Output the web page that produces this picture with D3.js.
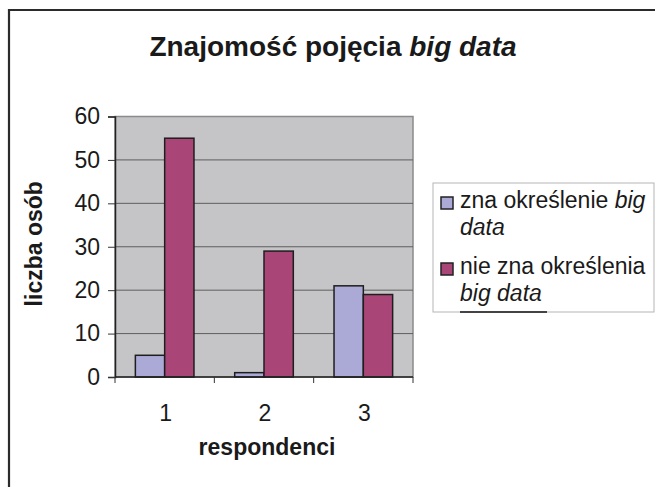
<!DOCTYPE html>
<html><head><meta charset="utf-8">
<script src="https://cdn.jsdelivr.net/npm/d3@7"></script>
<style>
html,body{margin:0;padding:0;background:#fff;}
svg{display:block;font-family:Arial,"Liberation Sans",sans-serif;}
</style></head>
<body>
<svg id="chart" width="655" height="487"></svg>
<script>
const categories = ["1", "2", "3"];
const seriesNames = ["zna określenie", "nie zna określenia"];
const znaValues = [5, 1, 21];
const nieZnaValues = [55, 29, 19];
const yTicks = [0, 10, 20, 30, 40, 50, 60];
const colors = ["#aba9d5", "#aa4677"];

const svg = d3.select("#chart");
const W = 655, H = 487;
const plot = {left: 115, right: 413, top: 116.5, bottom: 377};
const FS = 23;

// outer frame
svg.append("path").attr("d", `M9,${H} L9,10 L${W},10`)
  .attr("fill", "none").attr("stroke", "#2b2b2b").attr("stroke-width", 2.2);

const x0 = d3.scaleBand().domain(categories).range([plot.left, plot.right])
  .paddingInner(0.41).paddingOuter(0.205);
const x1 = d3.scaleBand().domain([0, 1]).range([0, x0.bandwidth()]);
const y = d3.scaleLinear().domain([0, 60]).range([plot.bottom, plot.top]);

// plot area
svg.append("rect").attr("x", plot.left).attr("y", plot.top)
  .attr("width", plot.right - plot.left).attr("height", plot.bottom - plot.top)
  .attr("fill", "#c5c5c7").attr("stroke", "#8a8a8a").attr("stroke-width", 1.5);

// gridlines
svg.append("g").selectAll("line").data(yTicks.filter(d => d > 0 && d < 60)).join("line")
  .attr("x1", plot.left).attr("x2", plot.right)
  .attr("y1", d => y(d)).attr("y2", d => y(d))
  .attr("stroke", "#5e5e5e").attr("stroke-width", 1);

// bars
const groups = svg.append("g").selectAll("g").data(categories).join("g")
  .attr("transform", d => `translate(${x0(d)},0)`);
groups.selectAll("rect").data((d, i) => [znaValues[i], nieZnaValues[i]]).join("rect")
  .attr("x", (d, j) => x1(j)).attr("width", x1.bandwidth())
  .attr("y", d => y(d)).attr("height", d => y(0) - y(d))
  .attr("fill", (d, j) => colors[j]).attr("stroke", "#1e1e1e").attr("stroke-width", 1.5);

// y axis
const yAxis = d3.axisLeft(y).tickValues(yTicks).tickSize(7).tickPadding(8).tickFormat(d3.format("d"));
const gy = svg.append("g").attr("transform", `translate(${plot.left},0)`).call(yAxis);
gy.select(".domain").attr("stroke", "#222").attr("stroke-width", 1.5);
gy.selectAll(".tick line").attr("stroke", "#333");
gy.selectAll("text").attr("font-size", FS).attr("fill", "#1a1a1a")
  .attr("font-family", "Arial, 'Liberation Sans', sans-serif");

// x axis: ticks at category boundaries
const boundaries = [plot.left, ...categories.slice(1).map(c => x0(c) - x0.step() * x0.paddingInner() / 2), plot.right];
svg.append("line").attr("x1", plot.left).attr("x2", plot.right)
  .attr("y1", plot.bottom).attr("y2", plot.bottom).attr("stroke", "#222").attr("stroke-width", 1.5);
svg.append("g").selectAll("line").data(boundaries).join("line")
  .attr("x1", d => d).attr("x2", d => d).attr("y1", plot.bottom).attr("y2", plot.bottom + 6)
  .attr("stroke", "#333").attr("stroke-width", 1);
svg.append("g").selectAll("text").data(categories).join("text")
  .attr("x", d => x0(d) + x0.bandwidth() / 2 + 1).attr("y", 421)
  .attr("text-anchor", "middle").attr("font-size", FS).attr("fill", "#1a1a1a").text(d => d);

// titles
const title = svg.append("text").attr("x", 333).attr("y", 56).attr("text-anchor", "middle")
  .attr("font-size", 28).attr("font-weight", "bold").attr("fill", "#1a1a1a");
title.append("tspan").text("Znajomość pojęcia ");
title.append("tspan").attr("font-style", "italic").text("big data");

svg.append("text").attr("x", 267).attr("y", 455).attr("text-anchor", "middle")
  .attr("font-size", FS).attr("font-weight", "bold").attr("fill", "#1a1a1a").text("respondenci");

svg.append("text").attr("transform", `translate(42,${(plot.top + plot.bottom) / 2 - 3}) rotate(-90)`)
  .attr("text-anchor", "middle").attr("font-size", FS).attr("font-weight", "bold")
  .attr("fill", "#1a1a1a").text("liczba osób");

// legend
const lg = svg.append("g");
lg.append("rect").attr("x", 433).attr("y", 183).attr("width", 221).attr("height", 129)
  .attr("fill", "#fff").attr("stroke", "#b5b5b5").attr("stroke-width", 1);
const entries = lg.selectAll("g").data(seriesNames).join("g")
  .attr("transform", (d, i) => `translate(0,${i * 66})`);
entries.append("rect").attr("x", 441).attr("y", 197).attr("width", 12).attr("height", 12)
  .attr("fill", (d, i) => colors[i]).attr("stroke", "#222").attr("stroke-width", 1.5);
entries.each(function(d, i) {
  const g = d3.select(this);
  const t1 = g.append("text").attr("x", 460).attr("y", 208).attr("font-size", FS).attr("fill", "#1a1a1a");
  t1.append("tspan").text(d + (i === 0 ? " " : ""));
  if (i === 0) t1.append("tspan").attr("font-style", "italic").text("big");
  g.append("text").attr("x", 460).attr("y", 235).attr("font-size", FS).attr("fill", "#1a1a1a")
    .attr("font-style", "italic").text(i === 0 ? "data" : "big data");
});
lg.append("line").attr("x1", 460).attr("x2", 547).attr("y1", 312).attr("y2", 312)
  .attr("stroke", "#111").attr("stroke-width", 1.5);
</script>
</body></html>
